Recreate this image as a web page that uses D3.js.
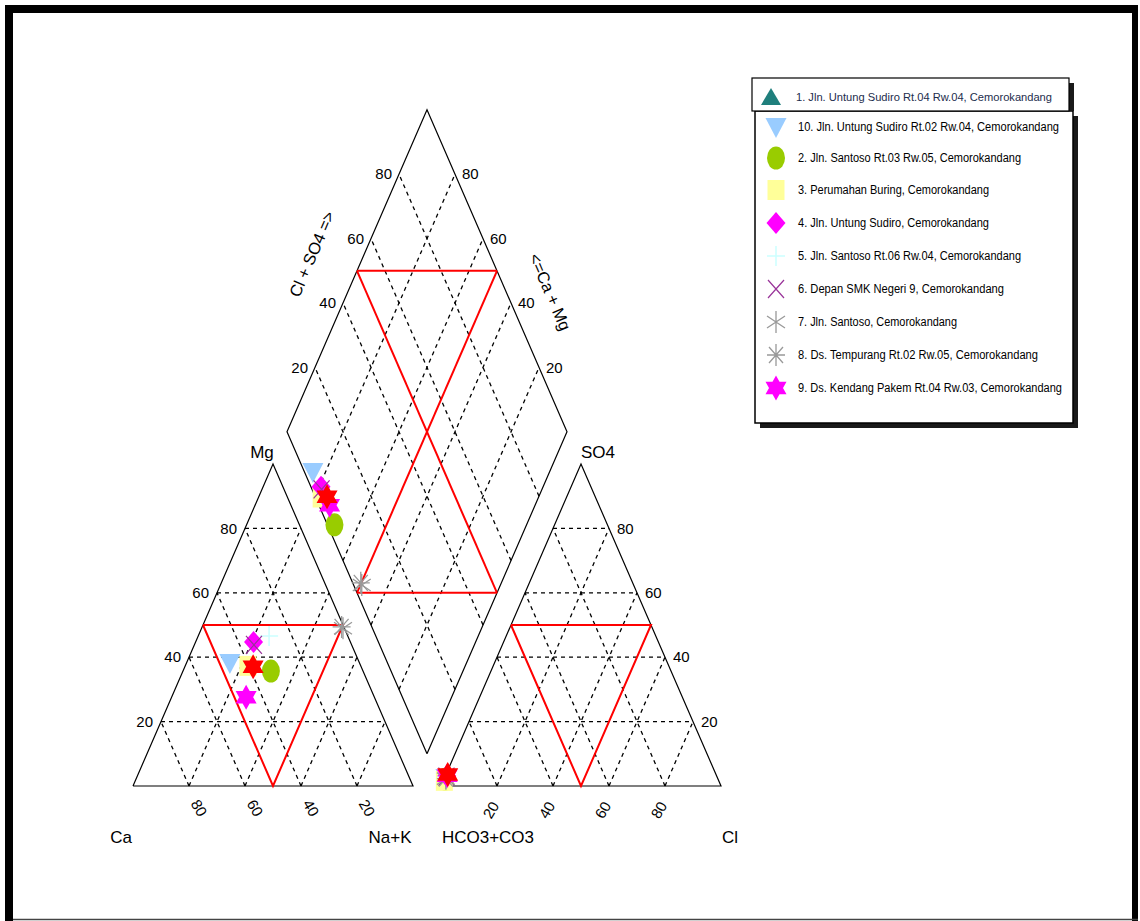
<!DOCTYPE html>
<html><head><meta charset="utf-8">
<script src="https://cdn.jsdelivr.net/npm/d3@7"></script>
<style>
html,body{margin:0;padding:0;background:#fff;}
svg{display:block;font-family:"Liberation Sans",Arial,sans-serif;}
</style></head><body>
<svg id="chart" width="1140" height="921"></svg>
<script>
// Sample sites, in legend order
const sampleLabels = [
  "1. Jln. Untung Sudiro Rt.04 Rw.04, Cemorokandang",
  "10. Jln. Untung Sudiro Rt.02 Rw.04, Cemorokandang",
  "2. Jln. Santoso Rt.03 Rw.05, Cemorokandang",
  "3. Perumahan Buring, Cemorokandang",
  "4. Jln. Untung Sudiro, Cemorokandang",
  "5. Jln. Santoso Rt.06 Rw.04, Cemorokandang",
  "6. Depan SMK Negeri 9, Cemorokandang",
  "7. Jln. Santoso, Cemorokandang",
  "8. Ds. Tempurang Rt.02 Rw.05, Cemorokandang",
  "9. Ds. Kendang Pakem Rt.04 Rw.03, Cemorokandang"
];
// Cations, % meq
const ca  = [38.6, 46.3, 32.9, 40.3, 34.6, 28.1, 34.9, 0.5, 0.8, 45.8];
const mg  = [37.0, 38.2, 35.7, 37.3, 44.7, 46.6, 43.8, 49.0, 49.4, 27.6];
const naK = [24.4, 15.5, 31.4, 22.4, 20.7, 25.3, 21.3, 50.5, 49.8, 26.6];
// Anions, % meq
const hco3 = [95.8, 97.0, 97.5, 98.0, 96.4, 96.8, 96.6, 97.1, 97.1, 96.2];
const so4  = [3.6, 2.5, 2.1, 1.6, 3.1, 2.7, 2.9, 2.3, 2.3, 3.2];
const cl   = [0.6, 0.5, 0.4, 0.4, 0.5, 0.5, 0.5, 0.6, 0.6, 0.6];

const gridTicks = [20, 40, 60, 80];
const tickLabels = ["20", "40", "60", "80"];

// ---- scales: unit triangle side along x, unit triangle height along y
const GAP = 0.1;
const x = d3.scaleLinear().domain([0, 2 + GAP]).range([133, 721]);
const y = d3.scaleLinear().domain([0, 1]).range([786, 464]);

const svg = d3.select("#chart");

// frame
svg.append("rect").attr("x", 5).attr("y", 5).attr("width", 1133).attr("height", 8).attr("fill", "#000");
svg.append("rect").attr("x", 5).attr("y", 5).attr("width", 8).attr("height", 916).attr("fill", "#000");
svg.append("rect").attr("x", 1132).attr("y", 5).attr("width", 6).attr("height", 916).attr("fill", "#000");
svg.append("line").attr("x1", 13).attr("x2", 1138).attr("y1", 919.5).attr("y2", 919.5).attr("stroke", "#444").attr("stroke-width", 1.5);

// ---- coordinate transforms (values in %)
function cationXY(c, m, n) {
  const s = c + m + n;
  return [n / s + 0.5 * m / s, m / s];
}
function anionXY(h, s4, c) {
  const s = h + s4 + c;
  return [1 + GAP + c / s + 0.5 * s4 / s, s4 / s];
}
// diamond: a = Ca+Mg fraction, b = Cl+SO4 fraction
function diamondXY(a, b) {
  return [1 + GAP / 2 + 0.5 * (b - a), GAP + a + b];
}
const P = p => [x(p[0]), y(p[1])];
const line = d3.line().x(d => x(d[0])).y(d => y(d[1]));

const gGrid = svg.append("g");
const gFrame = svg.append("g");
const gRed = svg.append("g");
const gText = svg.append("g").attr("font-size", 15).attr("fill", "#000");

function dashed(a, b) {
  gGrid.append("path").attr("d", line([a, b])).attr("fill", "none")
    .attr("stroke", "#000").attr("stroke-width", 1.3).attr("stroke-dasharray", "4,4");
}
function solid(pts, color, w) {
  gFrame.append("path").attr("d", line(pts)).attr("fill", "none")
    .attr("stroke", color).attr("stroke-width", w);
}
function red(pts) {
  gRed.append("path").attr("d", line(pts)).attr("fill", "none")
    .attr("stroke", "#ff0000").attr("stroke-width", 2);
}

// ---- cation triangle
solid([cationXY(100, 0, 0), cationXY(0, 0, 100), cationXY(0, 100, 0), cationXY(100, 0, 0)], "#000", 1.2);
gridTicks.forEach(k => {
  dashed(cationXY(100 - k, k, 0), cationXY(0, k, 100 - k));        // Mg
  dashed(cationXY(k, 0, 100 - k), cationXY(k, 100 - k, 0));        // Ca
  dashed(cationXY(100 - k, 0, k), cationXY(0, 100 - k, k));        // Na+K
});
// ---- anion triangle
solid([anionXY(100, 0, 0), anionXY(0, 0, 100), anionXY(0, 100, 0), anionXY(100, 0, 0)], "#000", 1.2);
gridTicks.forEach(k => {
  dashed(anionXY(100 - k, k, 0), anionXY(0, k, 100 - k));          // SO4
  dashed(anionXY(100 - k, 0, k), anionXY(0, 100 - k, k));          // Cl
  dashed(anionXY(k, 0, 100 - k), anionXY(k, 100 - k, 0));          // HCO3
});
// ---- diamond
solid([diamondXY(0, 0), diamondXY(1, 0), diamondXY(1, 1), diamondXY(0, 1), diamondXY(0, 0)], "#000", 1.2);
gridTicks.forEach(k => {
  dashed(diamondXY(k / 100, 0), diamondXY(k / 100, 1));
  dashed(diamondXY(0, k / 100), diamondXY(1, k / 100));
});

// ---- red classification lines
red([cationXY(50, 50, 0), cationXY(0, 50, 50), cationXY(50, 0, 50), cationXY(50, 50, 0)]);
red([anionXY(50, 50, 0), anionXY(0, 50, 50), anionXY(50, 0, 50), anionXY(50, 50, 0)]);
red([diamondXY(1, 0.5), diamondXY(0.5, 1)]);
red([diamondXY(0.5, 0), diamondXY(0, 0.5)]);
red([diamondXY(0.5, 0), diamondXY(0.5, 1)]);
red([diamondXY(0, 0.5), diamondXY(1, 0.5)]);

// ---- tick labels
function label(p, dx, dy, txt, anchor, rot) {
  const [px, py] = P(p);
  const t = gText.append("text").attr("text-anchor", anchor).text(txt)
    .attr("transform", `translate(${px + dx},${py + dy})` + (rot ? ` rotate(${rot})` : ""))
    .attr("dy", "0.35em");
  return t;
}
gridTicks.forEach((k, i) => {
  label(cationXY(100 - k, k, 0), -8, 0, tickLabels[i], "end");                   // Mg
  label(anionXY(0, k, 100 - k), 8, 0, tickLabels[i], "start");                   // SO4
  label(diamondXY(1, k / 100), -7, 0, tickLabels[i], "end");                     // Cl+SO4
  label(diamondXY(k / 100, 1), 7, 0, tickLabels[i], "start");                    // Ca+Mg
  label(cationXY(k, 0, 100 - k), 10, 22, tickLabels[i], "middle", 60);           // Ca
  label(anionXY(100 - k, 0, k), -6, 24, tickLabels[i], "middle", -60);           // Cl
});

// ---- axis titles
const gTitle = svg.append("g").attr("font-size", 17).attr("fill", "#000");
gTitle.append("text").attr("x", 262).attr("y", 458).attr("text-anchor", "middle").text("Mg");
gTitle.append("text").attr("x", 598).attr("y", 458).attr("text-anchor", "middle").text("SO4");
gTitle.append("text").attr("x", 121).attr("y", 843).attr("text-anchor", "middle").text("Ca");
gTitle.append("text").attr("x", 390).attr("y", 843).attr("text-anchor", "middle").text("Na+K");
gTitle.append("text").attr("x", 488).attr("y", 843).attr("text-anchor", "middle").text("HCO3+CO3");
gTitle.append("text").attr("x", 730).attr("y", 843).attr("text-anchor", "middle").text("Cl");
gTitle.append("text").attr("text-anchor", "middle").attr("font-size", 16.5)
  .attr("transform", "translate(312,254) rotate(-66.7)").attr("dy", "0.35em").text("Cl + SO4 =>");
gTitle.append("text").attr("text-anchor", "middle").attr("font-size", 16.5)
  .attr("transform", "translate(550,292) rotate(66.7)").attr("dy", "0.35em").text("<=Ca + Mg");

// ---- marker shapes
function hexagram(w, h) {
  return `M0,${-h / 2}L${w / 2},${h / 4}L${-w / 2},${h / 4}Z` +
         `M0,${h / 2}L${-w / 2},${-h / 4}L${w / 2},${-h / 4}Z`;
}
const markers = [
  { plot: { kind: "fill", d: hexagram(21, 25), fill: "#ff0000" },
    legend: { kind: "fill", d: "M0,-9L10,8L-10,8Z", fill: "#1f7f7c" } },
  { plot: { kind: "fill", d: "M-10.5,-9L10.5,-9L0,11Z", fill: "#99ccff" } },
  { plot: { kind: "fill", d: "M-9,0A9,11.5 0 1,0 9,0A9,11.5 0 1,0 -9,0Z", fill: "#99cc00" } },
  { plot: { kind: "fill", d: "M-8.5,-10H8.5V10H-8.5Z", fill: "#ffff99" } },
  { plot: { kind: "fill", d: "M0,-11L9.5,0L0,11L-9.5,0Z", fill: "#ff00ff" } },
  { plot: { kind: "stroke", d: "M0,-10V10M-9,0H9", stroke: "#ccffff", w: 1.5 } },
  { plot: { kind: "stroke", d: "M-8,-9L8,9M8,-9L-8,9", stroke: "#993399", w: 1.2 } },
  { plot: { kind: "stroke", d: "M0,-11V11M-9,-6L9,6M-9,6L9,-6", stroke: "#999999", w: 1.3 } },
  { plot: { kind: "stroke", d: "M0,-11V11M-9,0H9M-7,-8L7,8M-7,8L7,-8", stroke: "#999999", w: 1.3 } },
  { plot: { kind: "fill", d: hexagram(21, 25), fill: "#ff00ff" } }
];
function drawMarker(g, m, px, py) {
  const p = g.append("path").attr("d", m.d).attr("transform", `translate(${px},${py})`);
  if (m.kind === "fill") p.attr("fill", m.fill).attr("stroke", "none");
  else p.attr("fill", "none").attr("stroke", m.stroke).attr("stroke-width", m.w);
}

// ---- data points (sample 1 drawn last, on top)
const gPts = svg.append("g");
const order = [1, 2, 3, 4, 5, 6, 7, 8, 9, 0];
order.forEach(i => {
  const cPt = cationXY(ca[i], mg[i], naK[i]);
  const aPt = anionXY(hco3[i], so4[i], cl[i]);
  const caMg = (ca[i] + mg[i]) / (ca[i] + mg[i] + naK[i]);
  const clSo4 = (cl[i] + so4[i]) / (hco3[i] + so4[i] + cl[i]);
  const dPt = diamondXY(caMg, clSo4);
  [cPt, aPt, dPt].forEach(p => {
    const [px, py] = P(p);
    drawMarker(gPts, markers[i].plot, px, py);
  });
});

// ---- legend
const gLeg = svg.append("g");
gLeg.append("rect").attr("x", 760).attr("y", 116).attr("width", 318).attr("height", 312).attr("fill", "#1a1a1a");
gLeg.append("rect").attr("x", 755).attr("y", 111).attr("width", 318).attr("height", 312)
  .attr("fill", "#fff").attr("stroke", "#000").attr("stroke-width", 1.5);
gLeg.append("rect").attr("x", 1069).attr("y", 83).attr("width", 5).attr("height", 28).attr("fill", "#1a1a1a");
gLeg.append("rect").attr("x", 752).attr("y", 78).attr("width", 317).attr("height", 33)
  .attr("fill", "#fff").attr("stroke", "#000").attr("stroke-width", 1.2);

const legY = [97, 127, 158, 190, 223, 256, 289, 322, 355, 388];
const legTextW = [256, 261, 223, 191, 191, 223, 206, 159, 240, 264];
sampleLabels.forEach((lab, i) => {
  const m = markers[i].legend || markers[i].plot;
  drawMarker(gLeg, m, i === 0 ? 771 : 776, legY[i]);
  gLeg.append("text").attr("x", i === 0 ? 796 : 798).attr("y", legY[i]).attr("dy", "0.35em")
    .attr("font-size", i === 0 ? 10.5 : 12).attr("fill", i === 0 ? "#1c2c4c" : "#000")
    .attr("textLength", legTextW[i]).attr("lengthAdjust", "spacingAndGlyphs")
    .text(lab);
});
</script>
</body></html>
